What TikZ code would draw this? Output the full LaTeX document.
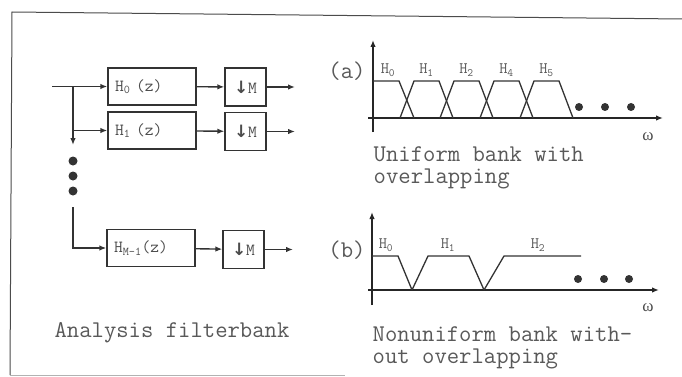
\documentclass[tikz,border=0pt]{standalone}
\usepackage{fontspec}
\newfontfamily\omegafont{Liberation Serif}
\newfontfamily\arrowfont{DejaVu Sans}
\usetikzlibrary{arrows.meta,positioning}
\newcommand\bigmono{\ttfamily\fontsize{24}{22}\selectfont}
\newcommand\boxmono{\ttfamily\fontsize{17}{18}\selectfont}
\newcommand\labmono{\ttfamily\fontsize{16}{16}\selectfont}
\begin{document}
\begin{tikzpicture}[x=1pt, y=-1pt, >={Latex[length=7pt,width=5.5pt]},
  line width=1.4pt,
  filt/.style={draw=black!80, line width=1.3pt, minimum width=88pt,
    minimum height=37pt, inner xsep=7pt, text width=74pt, align=left,
    font=\boxmono, text=black!70},
  decim/.style={draw=black!80, line width=1.3pt, minimum width=41pt,
    minimum height=38pt, inner sep=0pt, font=\boxmono, text=black!70},
  band/.style={draw=black!80, line width=1.3pt},
  axis/.style={draw=black!85, line width=1.6pt, ->},
  blab/.style={font=\labmono, text=black!65},
  bigtext/.style={font=\bigmono, text=black!65, inner sep=0pt}]
  \useasboundingbox (0,0) rectangle (682,377);
  \fill[white] (0,0) rectangle (682,377);
  %% Frame
  \draw[black!70, line width=1pt] (682,19) -- (12,12) -- (10,375);
  \draw[black!30, line width=0.8pt] (10,375) -- (345,375);

  %% Analysis filterbank
  \node[filt] (h0) at (152,86.5) {H\textsubscript{0} (z)};
  \node[filt] (h1) at (152,130.5) {H\textsubscript{1} (z)};
  \node[filt] (hm) at (151,248) {H\textsubscript{M-1}(z)};
  \node[decim] (d0) at (245.5,87) {{\arrowfont\bfseries ↓}M};
  \node[decim] (d1) at (245.5,131.5) {{\arrowfont\bfseries ↓}M};
  \node[decim] (dm) at (243.5,249.5) {{\arrowfont\bfseries ↓}M};
  \coordinate (in) at (52,86.5);
  \coordinate (split) at (73,86.5);
  \coordinate (down) at (73,145);
  \coordinate (resume) at (73,207);
  \coordinate (out0) at (295,87);
  \coordinate (out1) at (295,131.5);
  \coordinate (outm) at (293,249.5);
  \draw[->, black!80] (in) -- (h0);
  \draw[->, black!80] (split) -- (down);
  \draw[->, black!80] (split |- h1.west) -- (h1);
  \draw[->, black!80] (resume) |- (hm);
  \draw[->, black!80] (h0) -- (d0);
  \draw[->, black!80] (h1) -- (d1);
  \draw[->, black!80] (hm) -- (dm);
  \draw[->, black!80] (d0) -- (out0);
  \draw[->, black!80] (d1) -- (out1);
  \draw[->, black!80] (dm) -- (outm);
  \foreach \y in {161,176,191}
    \fill[black!80] (73,\y) circle (4.5);
  \node[bigtext, anchor=base] (title) at (172,337) {Analysis filterbank};

  %% (a) uniform bank
  \node[bigtext, anchor=base] (la) at (347,79) {(a)};
  \draw[axis] (373,132) -- (373,40);
  \draw[axis] (368,118) -- (663,118);
  \node[font=\omegafont\fontsize{17}{17}\selectfont, text=black!70] (wa) at (648,137) {ω};
  \draw[band] (373,81) -- (399,81) -- (414,118);
  \foreach \k in {0,...,3}
    \draw[band] (400+40*\k,118) -- (414+40*\k,81) -- (439+40*\k,81) -- (453+40*\k,118);
  \node[blab] (a0) at (388,70) {H\textsubscript{0}};
  \foreach \k/\n in {0/1,1/2,2/4,3/5}
    \node[blab] (a\n) at (426.5+40*\k,70) {H\textsubscript{\n}};
  \foreach \x in {579,605,631}
    \fill[black!80] (\x,107) circle (4);
  \node[bigtext, anchor=base west] (ta1) at (373,161) {Uniform bank with};
  \node[bigtext, anchor=base west] (ta2) at (373,183) {overlapping};

  %% (b) nonuniform bank
  \node[bigtext, anchor=base] (lb) at (347,257) {(b)};
  \draw[axis] (372,305) -- (372,212);
  \draw[axis] (368,290) -- (659,290);
  \node[font=\omegafont\fontsize{17}{17}\selectfont, text=black!70] (wb) at (648,308) {ω};
  \draw[band] (372,256) -- (398,256) -- (412,290);
  \draw[band] (412,290) -- (428,256) -- (469,256) -- (484,290);
  \draw[band] (484,290) -- (504,256) -- (581,256);
  \node[blab] (b0) at (386,245) {H\textsubscript{0}};
  \node[blab] (b1) at (448,245) {H\textsubscript{1}};
  \node[blab] (b2) at (538,245) {H\textsubscript{2}};
  \foreach \x in {578,604,629}
    \fill[black!80] (\x,279) circle (4);
  \node[bigtext, anchor=base west] (tb1) at (372,341) {Nonuniform bank with-};
  \node[bigtext, anchor=base west] (tb2) at (372,363) {out overlapping};
\end{tikzpicture}
\end{document}
